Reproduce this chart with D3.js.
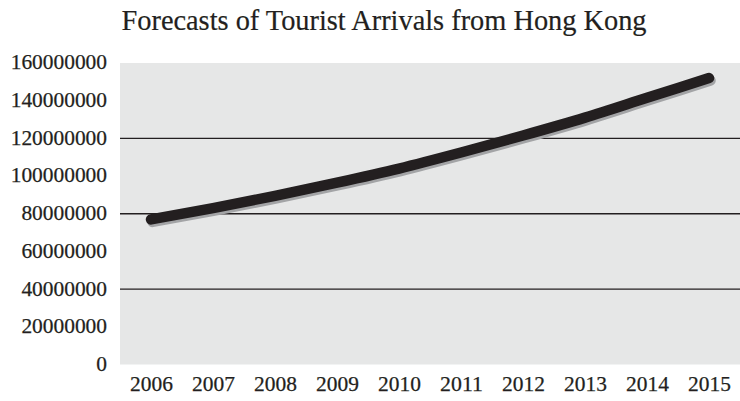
<!DOCTYPE html>
<html>
<head>
<meta charset="utf-8">
<script src="https://cdn.jsdelivr.net/npm/d3@7"></script>
<style>
  html, body { margin: 0; padding: 0; background: #fff; }
  svg { display: block; }
  text { font-family: "Liberation Serif", "Times New Roman", serif; fill: #231f20; }
</style>
</head>
<body>
<svg id="chart" width="740" height="401"></svg>
<script>
// Forecast series: annual tourist arrivals
const years = ["2006", "2007", "2008", "2009", "2010", "2011", "2012", "2013", "2014", "2015"];
const arrivals = [77000000, 83000000, 89500000, 96500000, 104000000, 112500000, 121500000, 131000000, 141500000, 152000000];
const yTicks = [0, 20000000, 40000000, 60000000, 80000000, 100000000, 120000000, 140000000, 160000000];
const gridValues = [40000000, 80000000, 120000000];
const title = "Forecasts of Tourist Arrivals from Hong Kong";

const plot = { left: 120, right: 740, top: 63, bottom: 364.5 };
const digitWidth = 10.7; // wide, bookish numerals

const svg = d3.select("#chart");

const x = d3.scalePoint()
  .domain(years)
  .range([plot.left, plot.right])
  .padding(0.5);

const y = d3.scaleLinear()
  .domain([0, 160000000])
  .range([plot.bottom, plot.top]);

// plot background
svg.append("rect")
  .attr("x", plot.left)
  .attr("y", plot.top)
  .attr("width", plot.right - plot.left)
  .attr("height", plot.bottom - plot.top)
  .attr("fill", "#e6e7e7");

// horizontal gridlines
svg.append("g")
  .selectAll("line")
  .data(gridValues)
  .join("line")
  .attr("x1", plot.left)
  .attr("x2", plot.right)
  .attr("y1", d => y(d))
  .attr("y2", d => y(d))
  .attr("stroke", "#231f20")
  .attr("stroke-width", 1.3);

function styleLabels(sel) {
  sel.attr("font-size", 21)
    .attr("font-family", "Liberation Serif, serif")
    .attr("fill", "#231f20")
    .attr("stroke", "#231f20")
    .attr("stroke-width", 0.25)
    .attr("textLength", function () { return this.textContent.length * digitWidth; })
    .attr("lengthAdjust", "spacingAndGlyphs");
}

// y axis labels
const yAxis = d3.axisLeft(y)
  .tickValues(yTicks)
  .tickFormat(d3.format("d"))
  .tickSize(0)
  .tickPadding(13);

const yg = svg.append("g")
  .attr("transform", `translate(${plot.left},0)`)
  .call(yAxis);
yg.select(".domain").remove();
yg.selectAll("text").call(styleLabels).attr("dy", "0.28em");

// x axis labels
const xAxis = d3.axisBottom(x).tickSize(0).tickPadding(13);
const xg = svg.append("g")
  .attr("transform", `translate(0,${plot.bottom})`)
  .call(xAxis);
xg.select(".domain").remove();
xg.selectAll("text").call(styleLabels).attr("dy", "0.62em");

// the forecast line with a soft drop shadow
const line = d3.line()
  .x((d, i) => x(years[i]))
  .y(d => y(d))
  .curve(d3.curveMonotoneX);

svg.append("path")
  .datum(arrivals)
  .attr("d", line)
  .attr("transform", "translate(1.5,2.5)")
  .attr("fill", "none")
  .attr("stroke", "#a3a4a6")
  .attr("stroke-width", 10.5)
  .attr("stroke-linecap", "round")
  .attr("stroke-linejoin", "round");

svg.append("path")
  .datum(arrivals)
  .attr("d", line)
  .attr("fill", "none")
  .attr("stroke", "#231f20")
  .attr("stroke-width", 10.5)
  .attr("stroke-linecap", "round")
  .attr("stroke-linejoin", "round");

// title
svg.append("text")
  .attr("x", 121.5)
  .attr("y", 30)
  .attr("font-size", 30)
  .attr("stroke", "#231f20")
  .attr("stroke-width", 0.2)
  .attr("textLength", 525)
  .attr("lengthAdjust", "spacingAndGlyphs")
  .text(title);
</script>
</body>
</html>
